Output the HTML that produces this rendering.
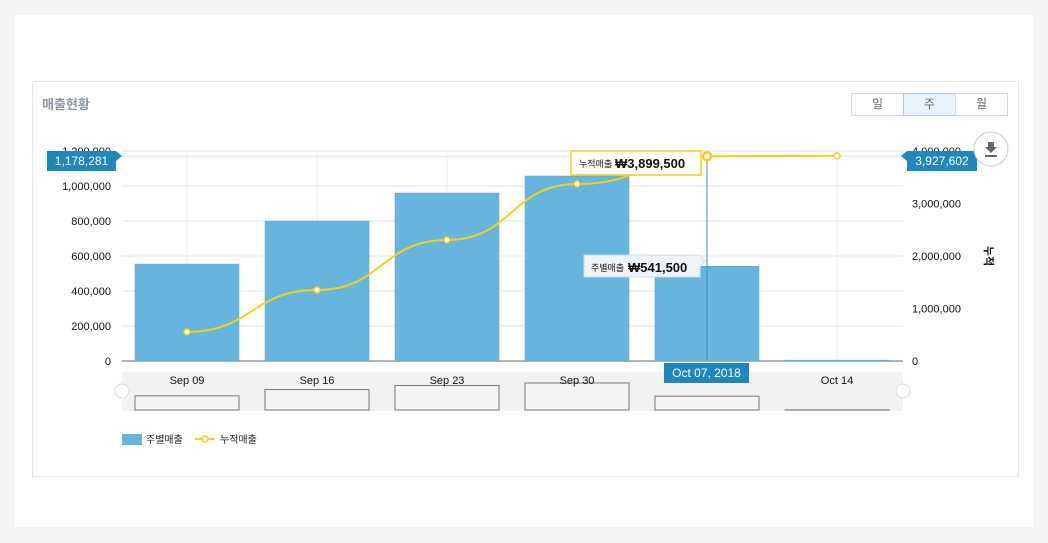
<!DOCTYPE html>
<html><head><meta charset="utf-8">
<style>
body{margin:0;width:1048px;height:543px;background:#f4f4f4;font-family:"Liberation Sans","Noto Sans CJK KR",sans-serif;overflow:hidden}
#panel{position:absolute;left:15px;top:15px;width:1018px;height:512px;background:#fff}
#box{position:absolute;left:32px;top:81px;width:985px;height:394px;border:1px solid #e3e6ee;background:#fff}
#title{position:absolute;left:42px;top:94px;font-size:13px;font-weight:bold;color:#8a96a0}
.tab{position:absolute;top:93px;height:21px;width:51px;border:1px solid #d7dbe0;background:#fff;font-size:12px;color:#666;text-align:center;line-height:21px}
svg{position:absolute;left:0;top:0}
</style></head><body>
<div id="panel"></div>
<div id="box"></div>
<div id="title">매출현황</div>
<div class="tab" style="left:851px">일</div>
<div class="tab" style="left:903px;background:#eaf3fd;border-color:#a9c8ee">주</div>
<div class="tab" style="left:955px">월</div>
<svg id="chart" width="1048" height="543"></svg>
<script>
const categories=["Sep 09","Sep 16","Sep 23","Sep 30","Oct 07","Oct 14"];
const weekly=[554000,800000,960000,1057000,541500,5000];
const cumulative=[555000,1352000,2305000,3371000,3899500,3910000];
const leftTicks=[0,200000,400000,600000,800000,1000000,1200000];
const rightTicks=[0,1000000,2000000,3000000,4000000];
const NS="http://www.w3.org/2000/svg";
const svg=document.getElementById('chart');
function mk(t,a,p){const e=document.createElementNS(NS,t);for(const k in a)e.setAttribute(k,a[k]);(p||svg).appendChild(e);return e;}
const x0=122,x1=903,y0=361,yTop=151;
const step=130,first=187;
const xc=i=>first+i*step;
const yl=v=>y0-(v/1200000)*(y0-yTop);
const yr=v=>y0-(v/4000000)*(y0-yTop);
const fmt=v=>v.toLocaleString('en-US');
const hoverIdx=4;
leftTicks.forEach(t=>{const l=mk('line',{x1:x0,x2:x1,y1:yl(t),y2:yl(t),stroke:t?'#e6e6e6':'#999','stroke-width':t?1:1.5});

const tx=mk('text',{x:111,y:yl(t)+4,'text-anchor':'end','font-size':11,fill:'#111'});tx.textContent=fmt(t);
});
rightTicks.forEach(t=>{const tx=mk('text',{x:912,y:yr(t)+4,'font-size':11,fill:'#111'});tx.textContent=fmt(t);
});
categories.forEach((c,i)=>{const l=mk('line',{x1:xc(i),x2:xc(i),y1:yTop,y2:y0,stroke:'#eee'});
});
const nb=mk('rect',{x:x0,y:372,width:x1-x0,height:39,fill:'#f2f2f2'});

const bw=104;
weekly.forEach((v,i)=>{const r=mk('rect',{x:xc(i)-bw/2,y:yl(v),width:bw,height:y0-yl(v),fill:'#67b4dc',stroke:'#5aa6d0','stroke-width':0.5});

const h=v/1057000*27;const n=mk('rect',{x:xc(i)-bw/2,y:410-h,width:bw,height:h,fill:'#f4f4f4',stroke:'#777','stroke-width':1});

if(i!==hoverIdx){const tx=mk('text',{x:xc(i),y:384,'text-anchor':'middle','font-size':11,fill:'#111'});tx.textContent=categories[i];
}});
const hl=mk('line',{x1:xc(hoverIdx),x2:xc(hoverIdx),y1:yTop,y2:y0,stroke:'#3a8fc0'});

const hh=mk('line',{x1:x0,x2:x1,y1:yr(cumulative[hoverIdx]),y2:yr(cumulative[hoverIdx]),stroke:'#d6e6f2'});

const pts=cumulative.map((v,i)=>[xc(i),yr(v)]);
let d='M'+pts[0];
for(let i=0;i<pts.length-1;i++){const [ax,ay]=pts[i],[bx,by]=pts[i+1];const mx=(ax+bx)/2;d+=` C${mx},${ay} ${mx},${by} ${bx},${by}`;}
const pl=mk('path',{d:d,fill:'none',stroke:'#f5cf1a','stroke-width':2});

pts.forEach((p,i)=>{const c=mk('circle',{cx:p[0],cy:p[1],r:i==hoverIdx?4:3,fill:'#fff',stroke:'#f5cf1a','stroke-width':i==hoverIdx?2.5:1.5});
});
[x0,x1].forEach(x=>{const c=mk('circle',{cx:x,cy:391,r:7,fill:'#fff',stroke:'#ddd'});
});
function label(x,y,w,txt,name){const g=mk('g',{});
mk('rect',{x:x,y:y,width:w,height:20,fill:'#1f87bb'},g);
const t=mk('text',{x:x+w/2,y:y+14,'text-anchor':'middle','font-size':12,fill:'#fff'},g);t.textContent=txt;return g;}
label(47,151,69,'1,178,281','left-crosshair-label');mk('path',{d:'M116,151 l6,5 l-6,5z',fill:'#1f87bb'});
label(907,151,70,'3,927,602','right-crosshair-label');mk('path',{d:'M907,151 l-6,5 l6,5z',fill:'#1f87bb'});
label(664,363,85,'Oct 07, 2018','x-crosshair-label');
const t1=mk('g',{});
mk('rect',{x:571,y:151,width:130,height:24,fill:'#fff',stroke:'#f5cf1a','stroke-width':1.5},t1);
let tt=mk('text',{x:579,y:167,'font-size':9,fill:'#222'},t1);tt.textContent='누적매출 ';
let tb=mk('text',{x:615,y:168,'font-size':13,'font-weight':'bold',fill:'#111'},t1);tb.textContent='₩3,899,500';
const t2=mk('g',{});
mk('path',{d:'M584,255 h116 l5,6 l-5,6 v10 h-116z',fill:'#eef5fa',stroke:'#c9e0ee'},t2);
tt=mk('text',{x:591,y:271,'font-size':9,fill:'#222'},t2);tt.textContent='주별매출';
tb=mk('text',{x:628,y:272,'font-size':13,'font-weight':'bold',fill:'#111'},t2);tb.textContent='₩541,500';
const rt=mk('text',{x:985,y:256,'font-size':11,'font-weight':'bold',fill:'#111',transform:'rotate(90 985 256)','text-anchor':'middle'});rt.textContent='누적';

const db=mk('g',{});
mk('circle',{cx:991,cy:149,r:17,fill:'#fff',stroke:'#ccc'},db);
mk('path',{d:'M988,142 h6 v5 h3 l-6,6 l-6,-6 h3z M985,155 h12 v2 h-12z',fill:'#666'},db);
const lg=mk('g',{});
mk('rect',{x:122,y:434,width:20,height:11,fill:'#67b4dc'},lg);
let lt=mk('text',{x:146,y:443,'font-size':10,fill:'#222'},lg);lt.textContent='주별매출';
mk('line',{x1:195,x2:215,y1:439,y2:439,stroke:'#f5cf1a','stroke-width':2},lg);
mk('circle',{cx:205,cy:439,r:3,fill:'#fff',stroke:'#f5cf1a','stroke-width':1.5},lg);
lt=mk('text',{x:220,y:443,'font-size':10,fill:'#222'},lg);lt.textContent='누적매출';
</script>
</body></html>
